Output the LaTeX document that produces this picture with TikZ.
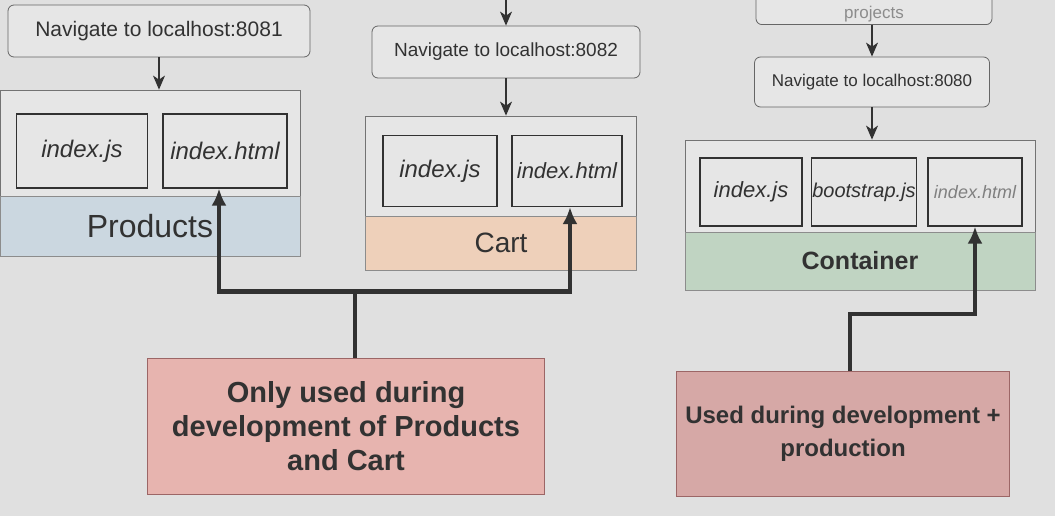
\documentclass[tikz,border=0pt]{standalone}
\usepackage{fontspec}
\setmainfont{Liberation Sans}
\usetikzlibrary{arrows.meta, positioning}
\definecolor{bggray}{RGB}{224,224,224}
\definecolor{boxgray}{RGB}{230,230,230}
\definecolor{inkgray}{RGB}{50,50,50}
\definecolor{prodblue}{RGB}{203,215,224}
\definecolor{cartpeach}{RGB}{238,208,186}
\definecolor{contgreen}{RGB}{192,212,194}
\definecolor{devpink}{RGB}{231,180,175}
\definecolor{prodrose}{RGB}{214,168,166}

\begin{document}
\begin{tikzpicture}[x=1pt, y=-1pt, %Pfeilspitzen
	nav/.style={draw=black!60, rounded corners=6pt, fill=boxgray, line width=0.8pt, text=inkgray, font=\fontsize{19}{22}\selectfont},
	app/.style={draw=black!55, fill=boxgray, line width=0.8pt},
	file/.style={draw=inkgray, fill=boxgray, line width=1.1pt, text=inkgray, font=\fontsize{24}{27}\selectfont\itshape},
	band/.style={draw=black!45, line width=0.6pt, text=inkgray},
	note/.style={draw=red!35!black!60, line width=0.7pt, text=inkgray, align=center},
	thinarrow/.style={-{Stealth[length=14pt, width=12pt, inset=4pt]}, draw=inkgray, line width=1.1pt},
	fatarrow/.style={-{Latex[length=17pt, width=15pt]}, draw=inkgray, line width=4.5pt}]
	\useasboundingbox (0,0) rectangle (1055,516);
	\clip (0,0) rectangle (1055,516);
	\fill[bggray] (0,0) rectangle (1055,516);

	% Products
	\node[nav, minimum width=302, minimum height=52, font=\fontsize{21}{24}\selectfont] (nav81) at (159,31) {Navigate to localhost:8081};
	\node[app, minimum width=300, minimum height=166] (prod) at (150,173) {};
	\node[file, minimum width=131, minimum height=74] (prodjs) at (82,151) {index.js};
	\node[file, minimum width=124, minimum height=74, inner sep=1pt] (prodhtml) at (225,151) {index.html};
	\node[band, fill=prodblue, minimum width=300, minimum height=60, font=\fontsize{32}{36}\selectfont] (prodband) at (150,226) {Products};

	% Cart
	\coordinate (cartin) at (506,0);
	\node[nav, minimum width=268, minimum height=52] (nav82) at (506,52) {Navigate to localhost:8082};
	\node[app, minimum width=271, minimum height=154] (cart) at (501,193) {};
	\node[file, minimum width=114, minimum height=71] (cartjs) at (440,171) {index.js};
	\node[file, minimum width=110, minimum height=71, inner sep=1pt, font=\fontsize{22}{25}\selectfont\itshape] (carthtml) at (567,171) {index.html};
	\node[band, fill=cartpeach, minimum width=271, minimum height=54, font=\fontsize{28}{31}\selectfont] (cartband) at (501,243) {Cart};

	% Container
	\node[nav, minimum width=236, minimum height=62, anchor=south] (proj) at (874,25) {};
	\node[text=black!45, font=\fontsize{17}{19}\selectfont, above=-1pt of proj.south] (projtxt) {projects};
	\node[nav, minimum width=235, minimum height=50, font=\fontsize{17}{20}\selectfont] (nav80) at (872,82) {Navigate to localhost:8080};
	\node[app, minimum width=350, minimum height=150] (cont) at (860,215) {};
	\node[file, minimum width=102, minimum height=68, font=\fontsize{22}{25}\selectfont\itshape] (contjs) at (751,192) {index.js};
	\node[file, minimum width=97, minimum height=68, inner sep=1pt, font=\fontsize{20}{23}\selectfont\itshape] (contboot) at (864,192) {bootstrap.js};
	\node[file, minimum width=94, minimum height=68, inner sep=1pt, text=black!50, font=\fontsize{18}{21}\selectfont\itshape] (conthtml) at (975,192) {index.html};
	\node[band, fill=contgreen, minimum width=350, minimum height=58, font=\fontsize{25}{29}\selectfont\bfseries] (contband) at (860,261) {Container};

	% notes
	\node[note, fill=devpink, minimum width=397, minimum height=136, font=\fontsize{29}{34}\selectfont\bfseries] (devonly) at (346,426) {Only used during\\development of Products\\and Cart};
	\node[note, fill=prodrose, minimum width=333, minimum height=125, font=\fontsize{24}{33}\selectfont\bfseries] (devprod) at (843,434) {Used during development +\\production};

	% thin arrows
	\draw[thinarrow] (nav81.south) -- (nav81.south |- prod.north);
	\draw[thinarrow] (cartin) -- (nav82.north);
	\draw[thinarrow] (nav82.south) -- (nav82.south |- cart.north);
	\draw[thinarrow] (proj.south -| nav80.north) -- (nav80.north);
	\draw[thinarrow] (nav80.south) -- (nav80.south |- cont.north);

	% fat arrows
	\draw[line width=4.5pt, draw=inkgray] ([xshift=9pt]devonly.north) -- ++(0,-66) coordinate (fork);
	\draw[fatarrow] (fork) -| ([xshift=-6pt]prodhtml.south);
	\draw[fatarrow] (fork) -| ([xshift=3pt]carthtml.south);
	\draw[fatarrow] ([xshift=7pt]devprod.north) -- ++(0,-57) -| (conthtml.south);
\end{tikzpicture}
\end{document}
